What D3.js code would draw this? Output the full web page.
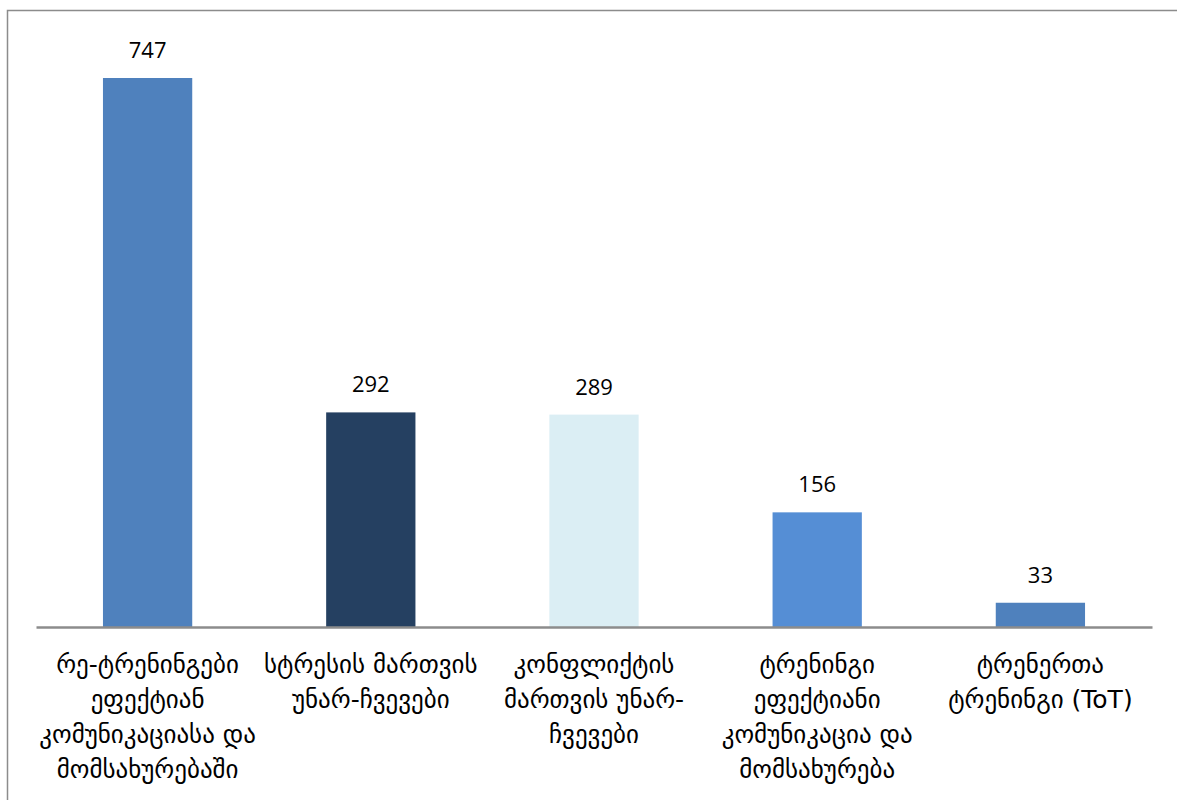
<!DOCTYPE html>
<html><head><meta charset="utf-8">
<script src="https://cdn.jsdelivr.net/npm/d3@7"></script>
<style>body{margin:0;background:#fff;}svg{display:block;}</style>
</head><body>
<svg id="c" width="1177" height="800"></svg>
<script>
const categories = [
  ["რე-ტრენინგები","ეფექტიან","კომუნიკაციასა და","მომსახურებაში"],
  ["სტრესის მართვის","უნარ-ჩვევები"],
  ["კონფლიქტის","მართვის უნარ-","ჩვევები"],
  ["ტრენინგი","ეფექტიანი","კომუნიკაცია და","მომსახურება"],
  ["ტრენერთა","ტრენინგი (ToT)"]
];
const values = [747, 292, 289, 156, 33];
const colors = ["#4F81BD", "#254061", "#DBEEF4", "#558ED5", "#4F81BD"];

const svg = d3.select("#c");
const left = 36, right = 1152, base = 627, topY = 78;
svg.append("rect").attr("x",7.5).attr("y",10.5).attr("width",1200).attr("height",820)
  .attr("fill","none").attr("stroke","#8c8c8c").attr("stroke-width",1.5);

const idx = values.map((d,i)=>i);
const x = d3.scaleBand().domain(idx).range([left,right]).paddingInner(0.6).paddingOuter(0.3);
const y = d3.scaleLinear().domain([0,747]).range([base,topY]);

svg.selectAll("rect.bar").data(values).join("rect").attr("class","bar")
  .attr("x",(d,i)=>x(i)).attr("width",x.bandwidth())
  .attr("y",d=>y(d)).attr("height",d=>base-y(d))
  .attr("fill",(d,i)=>colors[i]);

svg.selectAll("text.val").data(values).join("text").attr("class","val")
  .attr("x",(d,i)=>x(i)+x.bandwidth()/2).attr("y",d=>y(d)-20)
  .attr("text-anchor","middle").attr("font-family","Open Sans, Noto Sans, sans-serif")
  .attr("font-size",22).attr("fill","#000").text(d=>d);

const axis = d3.axisBottom(x).tickSize(0).tickFormat("");
const g = svg.append("g").attr("transform",`translate(0,${base})`).call(axis);
g.select(".domain").attr("stroke","#8c8c8c").attr("stroke-width",2.5);

const lab = svg.selectAll("text.cat").data(categories).join("text").attr("class","cat")
  .attr("font-family","DejaVu Sans, sans-serif").attr("font-size",25).attr("fill","#000")
  .attr("text-anchor","middle");
lab.each(function(lines,i){
  const t = d3.select(this);
  lines.forEach((l,j)=>{
    t.append("tspan").attr("x",x(i)+x.bandwidth()/2).attr("y",673+j*35).text(l);
  });
});
</script>
</body></html>
